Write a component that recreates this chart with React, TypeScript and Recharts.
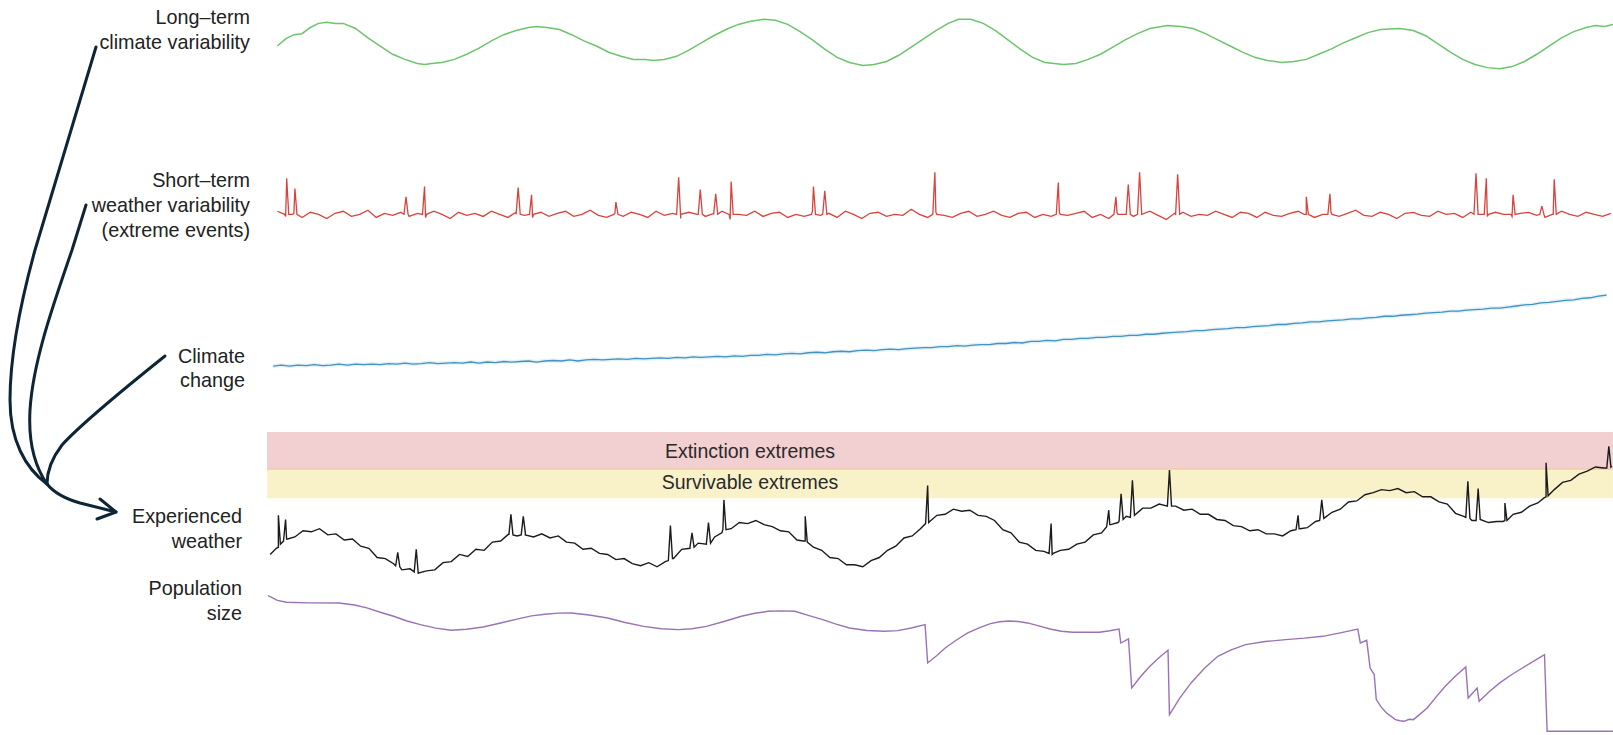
import { Line, LineChart, ReferenceArea, ReferenceLine, XAxis, YAxis } from 'recharts'

type Pt = [number, number]

// time runs 0..T_END across the whole strip
const T_END = 1308

// long-term climate variability (green), [time, value]
const climateVariability: Pt[] = [
  [10, 30], [18, 37], [26, 41], [34, 42], [42, 48], [50, 52], [58, 53], [66, 52], [74, 52], [86, 47],
  [98, 38], [110, 30], [122, 22], [134, 17], [146, 13], [153, 12], [160, 13], [170, 14], [182, 17], [194, 22],
  [206, 28], [218, 35], [230, 41], [242, 45], [254, 48], [262, 49], [272, 48], [284, 46], [296, 41], [308, 35],
  [320, 30], [332, 24], [344, 20], [356, 17], [368, 17], [375, 16], [386, 17], [398, 20], [410, 26], [422, 33],
  [434, 40], [446, 46], [458, 51], [470, 54], [483, 56], [494, 55], [506, 51], [518, 44], [530, 36], [542, 27],
  [554, 19], [566, 14], [579, 11], [590, 12], [602, 15], [614, 21], [626, 29], [638, 37], [650, 45], [662, 52],
  [672, 56], [684, 56], [696, 52], [708, 45], [720, 36], [732, 27], [744, 19], [756, 14], [774, 12], [786, 13],
  [798, 17], [810, 22], [822, 29], [834, 36], [846, 42], [858, 47], [875, 50], [888, 49], [900, 47], [912, 42],
  [924, 36], [936, 30], [948, 24], [960, 19], [972, 16], [986, 14], [998, 15], [1010, 17], [1022, 22], [1034, 27],
  [1046, 33], [1058, 38], [1070, 43], [1082, 46], [1101, 47], [1114, 45], [1126, 40], [1138, 32], [1150, 24], [1162, 17],
  [1174, 12], [1186, 9], [1198, 8], [1210, 10], [1222, 15], [1234, 22], [1246, 30], [1258, 38], [1270, 44], [1282, 48],
  [1291, 50], [1300, 49], [1308, 51],
]

// short-term weather (red): background wiggle every 8 time units from t=10
const WEATHER_T0 = 10
const weatherNoise = [
  15, 10, 13, 9, 14, 12, 8, 13, 15, 10, 12, 16, 9, 13, 11, 14, 10, 13, 9, 15, 12, 8, 14, 11, 13, 10, 15, 12, 9, 14,
  11, 9, 14, 10, 13, 15, 10, 12, 16, 11, 9, 13, 10, 14, 12, 9, 15, 11, 13, 8, 14, 12, 10, 13, 15, 7, 12, 11, 15, 10,
  13, 14, 9, 12, 10, 15, 11, 13, 9, 15, 12, 8, 13, 14, 10, 12, 11, 17, 12, 9, 14, 11, 9, 13, 15, 10, 12, 15, 11, 9,
  13, 14, 9, 12, 10, 14, 11, 13, 15, 9, 12, 8, 14, 12, 10, 13, 15, 11, 7, 13, 14, 10, 12, 11, 15, 12, 9, 14, 13, 9,
  14, 11, 10, 13, 15, 12, 9, 12, 14, 10, 13, 16, 11, 10, 14, 12, 8, 13, 14, 11, 10, 15, 12, 13, 9, 14, 12, 10, 14, 12,
  10, 13, 14, 11, 9, 12, 15, 12, 10, 14, 12, 10, 13,
]
// extreme events: foot, peak, foot
const weatherSpikes: Pt[] = [
  [17, 12], [19, 47], [21, 12], [25, 12], [27, 37], [29, 12],
  [133, 12], [135, 29], [137, 12], [151, 12], [153, 39], [155, 12],
  [242, 12], [244, 38], [246, 12], [255, 12], [257, 31], [259, 12],
  [337, 12], [339, 24], [341, 12], [398, 12], [400, 48], [402, 12],
  [419, 12], [421, 36], [423, 12], [434, 12], [436, 32], [438, 12],
  [449, 12], [451, 44], [453, 12], [529, 12], [531, 39], [533, 12],
  [540, 12], [542, 35], [544, 12], [647, 12], [649, 53], [651, 12],
  [767, 12], [769, 43], [771, 12], [823, 12], [825, 29], [827, 12],
  [835, 12], [837, 41], [839, 12], [846, 12], [848, 53], [850, 12],
  [883, 12], [885, 51], [887, 12], [1008, 12], [1010, 29], [1012, 12],
  [1031, 12], [1033, 32], [1035, 12], [1173, 12], [1175, 52], [1177, 12],
  [1183, 12], [1185, 47], [1187, 12], [1209, 12], [1211, 31], [1213, 12],
  [1237, 12], [1239, 20], [1241, 12], [1249, 12], [1251, 46], [1253, 12],
]

// climate change (blue), every 8 time units from t=6
const CHANGE_T0 = 6
const climateChange = [
  9, 10, 9, 10, 9.5, 10.5, 9.5, 10, 11, 10, 11, 10.5, 11, 10.5, 11.5, 11, 12, 11, 11.5, 12.5, 11.5, 12, 12.5, 12, 13, 12, 13, 12.5, 13.5, 13,
  13.5, 14, 13, 14, 14.5, 14, 15, 14, 15, 15.5, 15, 15.5, 16, 15.5, 16.5, 16, 16.5, 17, 16.5, 17.5, 17, 18, 17.5, 18, 18.5,
  18, 19, 18.5, 19.5, 19.5, 20.5, 20, 21, 21.5, 21, 22, 22.5, 22, 23, 23.5, 23, 24, 24.5, 24, 25, 25.5, 25, 26,
  26.5, 27, 27, 28, 28, 29, 28.5, 29.5, 30, 30, 31, 31, 32, 31.5, 33,
  33, 34, 33.5, 35, 35, 36, 36, 37, 37, 38, 38, 39, 39, 40, 40, 41,
  41.5, 42, 42.5, 43.5, 43.5, 44.5, 45, 45.5, 46.5, 46.5, 47.5, 48, 48.5, 49.5, 49.5, 50.5,
  51, 52, 52, 53, 53.5, 54, 55, 55, 56, 56.5, 57.5, 57.5, 58.5, 59, 59.5, 60.5,
  61, 61.5, 62.5, 62.5, 63.5, 64, 64.5, 65.5, 65.5, 66.5,
  67.5, 68.5, 69, 70.5, 71, 72, 73, 73.5, 75, 75.5, 77, 78,
]

// experienced weather (black), every 8 time units from t=3
const EXPERIENCED_T0 = 3
const experiencedBase = [
  26, 33, 41, 43, 49, 48, 51, 45, 46, 40, 41, 34, 32, 23, 22, 17, 11, 12, 7, 10,
  11, 18, 19, 26, 24, 31, 30, 38, 39, 46, 44, 47, 43, 46, 42, 44, 38, 37, 31, 32,
  27, 26, 21, 22, 17, 15, 18, 14, 19, 22, 31, 32, 37, 36, 43, 50, 51, 57, 56, 59,
  55, 53, 49, 48, 40, 39, 33, 30, 23, 22, 16, 16, 14, 20, 23, 30, 34, 42, 44, 51,
  57, 64, 65, 70, 68, 69, 64, 63, 59, 50, 47, 38, 36, 30, 29, 26, 30, 31, 36, 38,
  45, 47, 55, 57, 63, 64, 71, 71, 75, 73, 73, 69, 70, 65, 65, 60, 59, 54, 53, 49,
  50, 46, 46, 44, 49, 51, 52, 58, 61, 67, 70, 77, 78, 84, 86, 89, 88, 90, 86, 87,
  82, 82, 77, 75, 66, 63, 59, 60, 57, 58, 59, 65, 67, 73, 76, 82, 89, 96, 98, 104,
  107, 111, 110, 112,
]
const experiencedSpikes: Pt[] = [
  [9, 32], [11, 64], [13, 36], [16, 39], [18, 60], [20, 41],
  [125, 15], [127, 28], [129, 14], [143, 9], [145, 31], [147, 8],
  [235, 45], [237, 65], [239, 45], [247, 45], [249, 63], [251, 45],
  [390, 20], [392, 54], [394, 22], [411, 33], [413, 47], [415, 33],
  [427, 37], [429, 57], [431, 37], [442, 47], [444, 79], [446, 50],
  [521, 39], [523, 63], [525, 38], [640, 56], [642, 93], [644, 58],
  [760, 27], [762, 56], [764, 27], [816, 53], [818, 69], [820, 55],
  [828, 58], [830, 85], [832, 60], [839, 62], [841, 98], [843, 64],
  [875, 73], [877, 108], [879, 73], [1000, 50], [1002, 64], [1004, 51],
  [1023, 59], [1025, 79], [1027, 61], [1165, 62], [1167, 97], [1169, 61],
  [1175, 59], [1177, 90], [1179, 60], [1201, 58], [1203, 76], [1205, 59],
  [1241, 81], [1243, 115], [1245, 83], [1302, 110], [1304, 131], [1306, 111],
]

// tolerance bands on the experienced-weather scale
const extinctionBand = [109, 145]
const survivableBand = [80.6, 109]

// population size (purple), [time, value]
const population: Pt[] = [
  [1, 135.6], [10, 131], [19, 129.2], [40, 128.6], [70, 128.5], [85, 126.5], [97, 123.7], [110, 119.5], [123, 115.6], [136, 111],
  [149, 107.5], [164, 104], [179, 102], [194, 103], [210, 105.2], [227, 109], [244, 113], [257, 116], [270, 117.5], [283, 118.6],
  [296, 118.8], [313, 116.8], [331, 113.9], [348, 109.5], [366, 105.8], [383, 103.5], [400, 102.6], [413, 103.5], [427, 105.8], [444, 110.5],
  [461, 115.6], [474, 118.5], [487, 120.4], [500, 120.8], [513, 120.4], [526, 116.5], [540, 112.3], [553, 108], [566, 104.2], [583, 101.8],
  [600, 101], [613, 101.6], [626, 104.2], [639.5, 107.5], [642, 70.2], [651, 77.5], [659, 84.8], [670, 92.5], [681, 99.4], [692, 104.3],
  [703, 108.4], [712, 110.3], [721, 111], [730, 110.5], [739, 109.1], [750, 106.3], [761, 103.2], [772, 101], [783, 100], [796, 100],
  [809, 100], [819, 101.5], [828, 103.2], [829.7, 89.6], [837.2, 93.5], [840.3, 45.9], [849, 57], [858, 67], [867, 75.5], [875.6, 82.5],
  [877, 20], [887, 36], [898, 50.8], [911, 65], [924, 76.7], [937, 83], [951, 88], [970, 91], [990, 92.9], [1008, 94.3],
  [1026, 96.1], [1043, 99.5], [1060, 103.2], [1062.5, 89.6], [1068.7, 92.2], [1072, 65.3], [1076, 58.9], [1078, 34.6], [1083, 27], [1088, 21.6],
  [1096.6, 15.1], [1101, 14], [1105, 13.5], [1110, 15.5], [1114, 15.1], [1120, 20], [1127.5, 26.5], [1136, 37], [1145, 47.5], [1155, 57.5],
  [1165, 66.3], [1167.3, 36.2], [1176, 45.9], [1178, 33], [1188, 42.5], [1198, 50.8], [1209, 58.5], [1220, 65.3], [1231, 72], [1241.5, 78.3],
  [1244, 3.8], [1308, 3.8],
]

const labels = [
  ['Long–term', 'climate variability'],
  ['Short–term', 'weather variability', '(extreme events)'],
  ['Climate', 'change'],
  ['Experienced', 'weather'],
  ['Population', 'size'],
]

const PLOT_LEFT = 267
const PLOT_WIDTH = 1346
const FONT = '"Liberation Sans", Arial, sans-serif'

const fromPairs = (pairs: Pt[]) => pairs.map(([t, v]) => ({ t, v }))
const fromSteps = (values: number[], t0: number) => values.map((v, i) => ({ t: t0 + i * 8, v }))
const bySort = (a: { t: number }, b: { t: number }) => a.t - b.t

const greenData = fromPairs(climateVariability)
const redData = [...fromSteps(weatherNoise, WEATHER_T0), ...fromPairs(weatherSpikes)].sort(bySort)
const blueData = fromSteps(climateChange, CHANGE_T0)
const blackData = [...fromSteps(experiencedBase, EXPERIENCED_T0), ...fromPairs(experiencedSpikes)].sort(bySort)
const purpleData = fromPairs(population)

function Track({ top, height, max, data, children }: {
  top: number
  height: number
  max: number
  data: { t: number; v: number }[]
  children: React.ReactNode
}) {
  return (
    <div style={{ position: 'absolute', left: PLOT_LEFT, top, width: PLOT_WIDTH, height }}>
      <LineChart width={PLOT_WIDTH} height={height} data={data} margin={{ top: 0, right: 0, bottom: 0, left: 0 }}>
        <XAxis type="number" dataKey="t" domain={[0, T_END]} hide />
        <YAxis type="number" domain={[0, max]} hide />
        {children}
      </LineChart>
    </div>
  )
}

function RowLabel({ lines, right, top, lineHeight = 25 }: {
  lines: string[]
  right: number
  top: number
  lineHeight?: number
}) {
  return (
    <div
      style={{
        position: 'absolute',
        left: right - 300,
        top,
        width: 300,
        textAlign: 'right',
        fontFamily: FONT,
        fontSize: 19.8,
        lineHeight: `${lineHeight}px`,
        color: '#222',
        whiteSpace: 'nowrap',
      }}
    >
      {lines.map((l) => (
        <div key={l}>{l}</div>
      ))}
    </div>
  )
}

function BandText({ text, y }: { text: string; y: number }) {
  return (
    <div
      style={{
        position: 'absolute',
        left: 550,
        top: y - 12,
        width: 400,
        textAlign: 'center',
        fontFamily: FONT,
        fontSize: 19.5,
        lineHeight: '24px',
        color: '#2a2a2a',
      }}
    >
      {text}
    </div>
  )
}

export default function App() {
  return (
    <div style={{ position: 'absolute', left: 0, top: 0, width: 1613, height: 735, background: '#fff', overflow: 'hidden' }}>
      <Track top={10.3} height={66.9} max={65} data={greenData}>
        <Line dataKey="v" stroke="#6cc56a" strokeWidth={1.5} dot={false} isAnimationActive={false} />
      </Track>

      <Track top={164.6} height={61.7} max={60} data={redData}>
        <Line dataKey="v" stroke="#d8433d" strokeWidth={1.3} dot={false} isAnimationActive={false} />
      </Track>

      <Track top={288} height={87.4} max={85} data={blueData}>
        <Line dataKey="v" stroke="#e3f1f8" strokeWidth={4} dot={false} isAnimationActive={false} />
        <Line dataKey="v" stroke="#4392bf" strokeWidth={1.3} dot={false} isAnimationActive={false} />
      </Track>

      <Track top={432} height={149.2} max={145} data={blackData}>
        <ReferenceArea y1={extinctionBand[0]} y2={extinctionBand[1]} fill="#f2cfd1" fillOpacity={1} stroke="none" />
        <ReferenceArea y1={survivableBand[0]} y2={survivableBand[1]} fill="#f9f2c8" fillOpacity={1} stroke="none" />
        <ReferenceLine y={extinctionBand[0]} stroke="#f3c8ad" strokeWidth={1.5} />
        <Line dataKey="v" stroke="#1b1b1b" strokeWidth={1.4} dot={false} isAnimationActive={false} />
      </Track>

      <Track top={586.4} height={149.2} max={145} data={purpleData}>
        <Line dataKey="v" stroke="#9a72b6" strokeWidth={1.4} dot={false} isAnimationActive={false} />
      </Track>

      <BandText text="Extinction extremes" y={451} />
      <BandText text="Survivable extremes" y={482} />

      <RowLabel lines={labels[0]} right={250} top={5} lineHeight={24.5} />
      <RowLabel lines={labels[1]} right={250} top={167.5} />
      <RowLabel lines={labels[2]} right={245} top={344} lineHeight={24} />
      <RowLabel lines={labels[3]} right={242} top={504} />
      <RowLabel lines={labels[4]} right={242} top={575.5} />

      <svg width={1613} height={735} style={{ position: 'absolute', left: 0, top: 0, pointerEvents: 'none' }}>
        <g fill="none" stroke="#0e2536" strokeWidth={3} strokeLinecap="round" strokeLinejoin="round">
          <path d="M96 47 L35 250 C24 290 10 350 10 400 C10 440 25 468 47 484" />
          <path d="M86 205 L72 250 C55 300 33 360 30 410 C28 445 36 468 47 484" />
          <path d="M165 356 C120 392 80 425 62 445 C52 458 47 470 47 484" />
          <path d="M47 484 C55 494 66 499 80 503 L116 512" />
          <path d="M100 499 L116 512 L97 519" />
        </g>
      </svg>
    </div>
  )
}
